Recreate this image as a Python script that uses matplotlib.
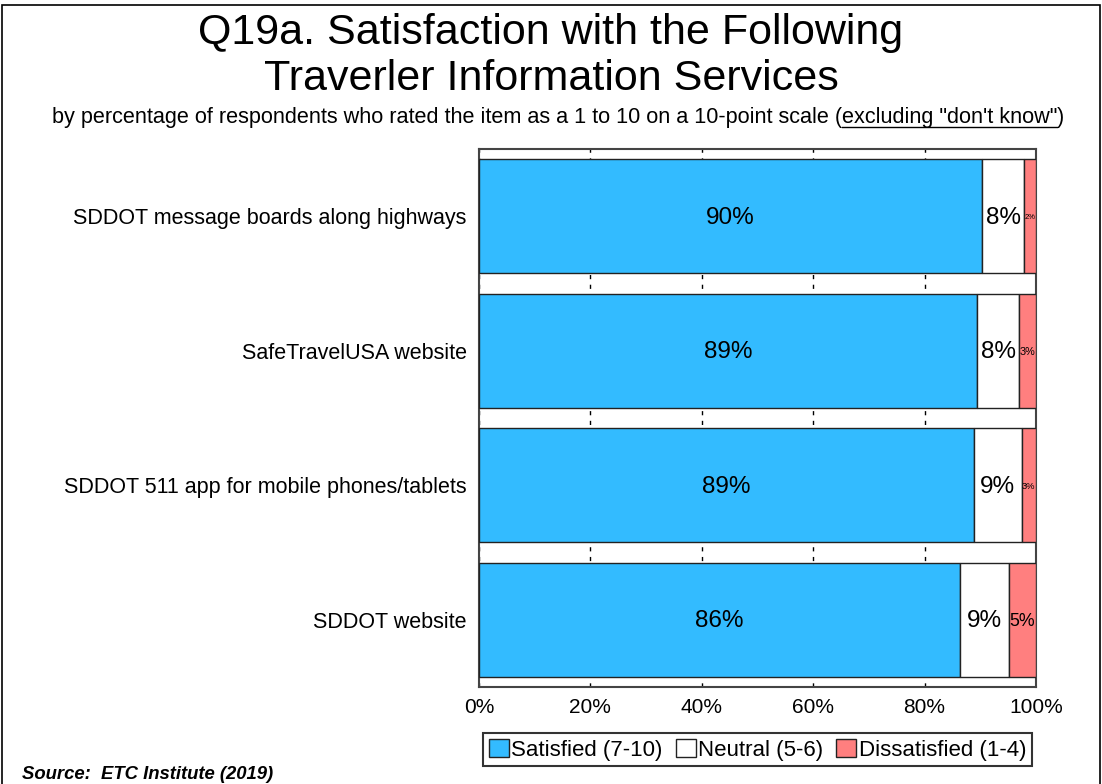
import numpy as np
import matplotlib.pyplot as plt
from matplotlib.patches import Rectangle

plt.rcParams['font.family'] = ['Liberation Sans', 'DejaVu Sans']

categories = [
    "SDDOT message boards along highways",
    "SafeTravelUSA website",
    "SDDOT 511 app for mobile phones/tablets",
    "SDDOT website",
]
satisfied = [90.3, 89.4, 88.8, 86.3]
neutral = [7.6, 7.6, 8.6, 8.8]
dissatisfied = [2.1, 3.0, 2.6, 4.9]
series_names = ["Satisfied (7-10)", "Neutral (5-6)", "Dissatisfied (1-4)"]
colors = ["#33BBFF", "#FFFFFF", "#FF7F7F"]
xticks = [0, 20, 40, 60, 80, 100]

fig = plt.figure(figsize=(11.02, 7.84), dpi=100)
ax = fig.add_axes([0.4347, 0.1237, 0.5054, 0.6862])

# outer frame of the slide
fig.patches.append(Rectangle((0.002, -0.05), 0.996, 1.044, transform=fig.transFigure,
                             fill=False, edgecolor="black", linewidth=1.2))

y = np.arange(len(categories))
left = np.zeros(len(categories))
for vals, name, col in zip([satisfied, neutral, dissatisfied], series_names, colors):
    vals = np.array(vals)
    ax.barh(y, vals, left=left, height=0.85, color=col, edgecolor="#222222",
            linewidth=1.0, label=name, zorder=3)
    for yi, l, v in zip(y, left, vals):
        fs = min(17.5, v * 2.6)
        ax.text(l + v / 2, yi + 0.01, f"{v:.0f}%", ha="center", va="center",
                fontsize=fs, color="black", zorder=4)
    left += vals

ax.set_xlim(0, 100)
ax.set_ylim(3.5, -0.5)
ax.set_yticks(y)
ax.set_yticklabels(categories, fontsize=15.5)
ax.set_xticks(xticks)
ax.set_xticklabels([f"{t}%" for t in xticks], fontsize=15)
ax.tick_params(axis="both", length=0)
ax.tick_params(axis="x", pad=8)
ax.tick_params(axis="y", pad=9)
ax.xaxis.grid(True, color="black", linestyle=(0, (3, 4)), linewidth=1.0, zorder=0)
ax.set_axisbelow(True)
for s in ax.spines.values():
    s.set_color("#444444")
    s.set_linewidth(1.5)

leg = ax.legend(loc="center", bbox_to_anchor=(0.5, -0.117), ncol=3, fontsize=16,
                frameon=True, fancybox=False, edgecolor="black", handlelength=0.9,
                handleheight=0.9, handletextpad=0.1, columnspacing=0.6,
                borderpad=0.25, borderaxespad=0)
leg.get_frame().set_linewidth(1.5)

fig.text(0.5, 0.983, "Q19a. Satisfaction with the Following\nTraverler Information Services",
         ha="center", va="top", fontsize=31, linespacing=1.17)

# subtitle with underlined part
sub_a = "by percentage of respondents who rated the item as a 1 to 10 on a 10-point scale ("
sub_b = "excluding \"don't know\""
sub_c = ")"
fig.canvas.draw()
r = fig.canvas.get_renderer()
fs_sub = 15.6
sy = 0.843
t1 = fig.text(0.047, sy, sub_a, fontsize=fs_sub, va="baseline")
bb1 = t1.get_window_extent(r)
t2 = fig.text(bb1.x1 / fig.bbox.width, sy, sub_b, fontsize=fs_sub, va="baseline")
bb2 = t2.get_window_extent(r)
t3 = fig.text(bb2.x1 / fig.bbox.width, sy, sub_c, fontsize=fs_sub, va="baseline")
uy = sy - 4 / fig.bbox.height
fig.add_artist(plt.Line2D([bb2.x0 / fig.bbox.width, bb2.x1 / fig.bbox.width], [uy, uy],
                          color="black", linewidth=1.0, transform=fig.transFigure))

fig.text(0.02, 0.006, "Source:  ETC Institute (2019)", fontsize=13.3,
         fontweight="bold", fontstyle="italic", ha="left", va="baseline")

fig.savefig("out.png", dpi=100)
